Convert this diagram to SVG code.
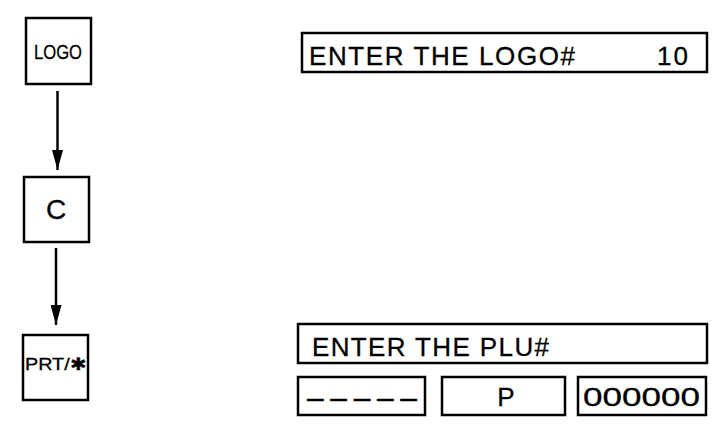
<svg xmlns="http://www.w3.org/2000/svg" width="720" height="429" viewBox="0 0 720 429">
<defs>
<style>
.box{fill:#fff;stroke:#000;stroke-width:2.5}
.t{font-family:"Liberation Sans",Arial,sans-serif;fill:#000;stroke:#000;stroke-width:0.3}
.ln{stroke:#000;stroke-width:2.5;fill:none}
</style>
<marker id="ah" viewBox="0 0 20 11" refX="20" refY="5.5" markerWidth="20" markerHeight="11" markerUnits="userSpaceOnUse" orient="auto">
<path d="M0,0 L20,5.5 L0,11 Z" fill="#000"/>
</marker>
</defs>
<rect width="720" height="429" fill="#fff"/>
<g id="key-logo">
<rect class="box" x="26" y="18" width="65" height="66"/>
<text class="t" x="58" y="59" font-size="21" text-anchor="middle" textLength="48" lengthAdjust="spacingAndGlyphs">LOGO</text>
</g>
<g id="key-c">
<rect class="box" x="24" y="177" width="65" height="65"/>
<text class="t" x="56" y="219" font-size="28" text-anchor="middle">C</text>
</g>
<g id="key-prt">
<rect class="box" x="23" y="335" width="65" height="65"/>
<text class="t" x="55.5" y="370" font-size="17" text-anchor="middle" textLength="61" lengthAdjust="spacingAndGlyphs">PRT/✱</text>
</g>
<g id="connectors">
<line class="ln" x1="57.5" y1="91" x2="57.5" y2="170" marker-end="url(#ah)"/>
<line class="ln" x1="56" y1="248" x2="56" y2="325" marker-end="url(#ah)"/>
</g>
<g id="display-logo">
<rect class="box" x="302" y="33" width="405" height="39"/>
<text class="t" x="309" y="65" font-size="26" textLength="266" lengthAdjust="spacing">ENTER THE LOGO#</text>
<text class="t" x="657" y="65" font-size="26" textLength="31" lengthAdjust="spacing">10</text>
</g>
<g id="display-plu">
<rect class="box" x="298" y="324" width="409" height="39"/>
<text class="t" x="312" y="356" font-size="26" textLength="237" lengthAdjust="spacing">ENTER THE PLU#</text>
</g>
<g id="field-dashes">
<rect class="box" x="298" y="377" width="127" height="38"/>
<text class="t" x="307" y="408" font-size="30" textLength="110" lengthAdjust="spacing">–––––</text>
</g>
<g id="field-p">
<rect class="box" x="442" y="377" width="123" height="38"/>
<text class="t" x="506" y="406" font-size="26" text-anchor="middle">P</text>
</g>
<g id="field-zeros">
<rect class="box" x="578" y="377" width="128" height="38"/>
<text class="t" x="583" y="406" font-size="26" textLength="117" lengthAdjust="spacingAndGlyphs">000000</text>
</g>
</svg>
